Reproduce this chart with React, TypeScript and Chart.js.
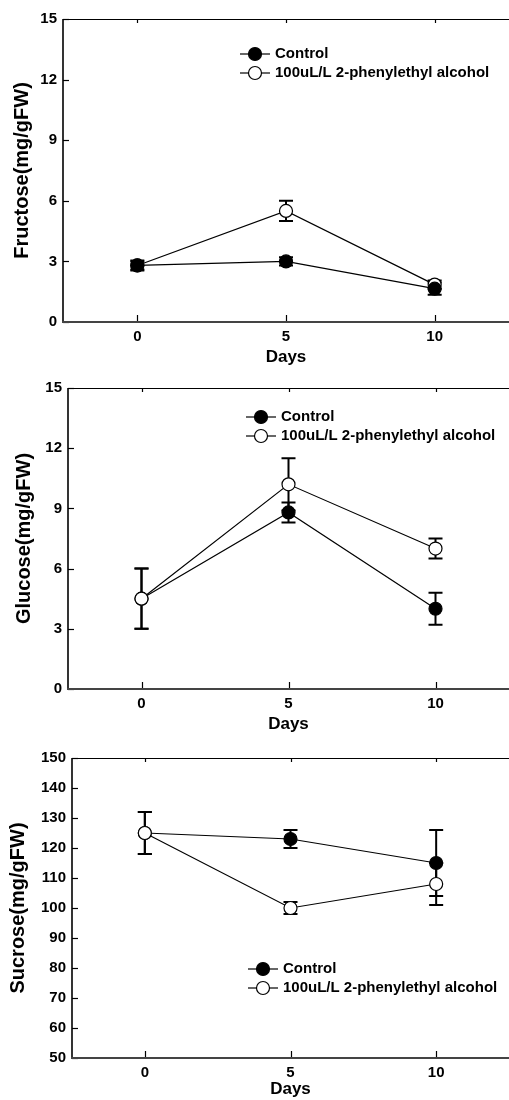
import React, { useEffect, useRef } from "react";
import { Chart, registerables } from "chart.js";

Chart.register(...registerables);

// ---------------- DATA ----------------
const days = [0, 5, 10];
const seriesNames = ["Control", "100uL/L 2-phenylethyl alcohol"];
const xTitle = "Days";
const xTicks = [0, 5, 10];

const fructoseControl = [2.8, 3.0, 1.65];
const fructoseControlErr = [0.25, 0.2, 0.3];
const fructoseTreated = [2.8, 5.5, 1.85];
const fructoseTreatedErr = [0.2, 0.5, 0.2];
const fructoseTicks = [0, 3, 6, 9, 12, 15];

const glucoseControl = [4.5, 8.8, 4.0];
const glucoseControlErr = [1.5, 0.5, 0.8];
const glucoseTreated = [4.5, 10.2, 7.0];
const glucoseTreatedErr = [1.5, 1.3, 0.5];
const glucoseTicks = [0, 3, 6, 9, 12, 15];

const sucroseControl = [125, 123, 115];
const sucroseControlErr = [7, 3, 11];
const sucroseTreated = [125, 100, 108];
const sucroseTreatedErr = [7, 2, 7];
const sucroseTicks = [50, 60, 70, 80, 90, 100, 110, 120, 130, 140, 150];

// ---------------- LAYOUT / STYLE ----------------
const FONT = "'Liberation Sans', Arial, Helvetica, sans-serif";

type Panel = {
  title: string;
  control: number[];
  controlErr: number[];
  treated: number[];
  treatedErr: number[];
  yTicks: number[];
  top: number;
  height: number;
  areaTop: number;
  areaLeft: number;
  areaBottom: number;
  yTitlePad: number;
  xTitlePad: number;
  legendDx: number;
  legendDy: number;
  treatedOnTop: boolean;
};

const panels: Panel[] = [
  {
    title: "Fructose(mg/gFW)",
    control: fructoseControl,
    controlErr: fructoseControlErr,
    treated: fructoseTreated,
    treatedErr: fructoseTreatedErr,
    yTicks: fructoseTicks,
    top: 0,
    height: 370,
    areaTop: 19,
    areaLeft: 63,
    areaBottom: 322,
    yTitlePad: 10,
    xTitlePad: 2,
    legendDx: 192,
    legendDy: 35,
    treatedOnTop: false,
  },
  {
    title: "Glucose(mg/gFW)",
    control: glucoseControl,
    controlErr: glucoseControlErr,
    treated: glucoseTreated,
    treatedErr: glucoseTreatedErr,
    yTicks: glucoseTicks,
    top: 370,
    height: 370,
    areaTop: 18,
    areaLeft: 68,
    areaBottom: 319,
    yTitlePad: 12,
    xTitlePad: 5,
    legendDx: 193,
    legendDy: 29,
    treatedOnTop: true,
  },
  {
    title: "Sucrose(mg/gFW)",
    control: sucroseControl,
    controlErr: sucroseControlErr,
    treated: sucroseTreated,
    treatedErr: sucroseTreatedErr,
    yTicks: sucroseTicks,
    top: 740,
    height: 360,
    areaTop: 18,
    areaLeft: 72,
    areaBottom: 318,
    yTitlePad: 6,
    xTitlePad: 0,
    legendDx: 191,
    legendDy: 211,
    treatedOnTop: true,
  },
];

const errorBarPlugin = {
  id: "errorBars",
  beforeDatasetsDraw(chart: any) {
    const ctx = chart.ctx;
    const ys = chart.scales.y;
    ctx.save();
    ctx.strokeStyle = "#000";
    ctx.lineWidth = 2;
    chart.data.datasets.forEach((ds: any, di: number) => {
      const meta = chart.getDatasetMeta(di);
      ds.data.forEach((pt: any, i: number) => {
        const el = meta.data[i];
        const e = ds.errors[i];
        const x = el.x;
        const y1 = ys.getPixelForValue(pt.y + e);
        const y2 = ys.getPixelForValue(pt.y - e);
        ctx.beginPath();
        ctx.moveTo(x, y1);
        ctx.lineTo(x, y2);
        ctx.moveTo(x - 7, y1);
        ctx.lineTo(x + 7, y1);
        ctx.moveTo(x - 7, y2);
        ctx.lineTo(x + 7, y2);
        ctx.stroke();
      });
    });
    ctx.restore();
  },
};

const axesPlugin = {
  id: "frameAxes",
  afterDatasetsDraw(chart: any) {
    const ctx = chart.ctx;
    const { left, right, top, bottom } = chart.chartArea;
    const xs = chart.scales.x;
    const ys = chart.scales.y;
    ctx.save();
    // top frame line
    ctx.strokeStyle = "#000";
    ctx.lineWidth = 1;
    ctx.beginPath();
    ctx.moveTo(left, top + 0.5);
    ctx.lineTo(right, top + 0.5);
    ctx.stroke();
    // left axis
    ctx.lineWidth = 1.6;
    ctx.beginPath();
    ctx.moveTo(left, top);
    ctx.lineTo(left, bottom);
    ctx.stroke();
    // y ticks inward
    ctx.lineWidth = 1.2;
    ys.ticks.forEach((t: any) => {
      const py = Math.round(ys.getPixelForValue(t.value)) + 0.5;
      ctx.beginPath();
      ctx.moveTo(left, py);
      ctx.lineTo(left + 6, py);
      ctx.stroke();
    });
    // x ticks inward (bottom and top)
    xs.ticks.forEach((t: any) => {
      const px = Math.round(xs.getPixelForValue(t.value)) + 0.5;
      ctx.beginPath();
      ctx.moveTo(px, bottom);
      ctx.lineTo(px, bottom - 7);
      ctx.moveTo(px, top);
      ctx.lineTo(px, top + 4);
      ctx.stroke();
    });
    // bottom axis
    ctx.strokeStyle = "#444";
    ctx.lineWidth = 2;
    ctx.beginPath();
    ctx.moveTo(left - 1, bottom);
    ctx.lineTo(right, bottom);
    ctx.stroke();
    ctx.restore();
  },
};

const legendPlugin = {
  id: "insideLegend",
  afterDraw(chart: any) {
    const opts = chart.options.plugins.insideLegend;
    const ctx = chart.ctx;
    const { left, top } = chart.chartArea;
    const mx = left + opts.dx;
    ctx.save();
    chart.data.datasets.forEach((ds: any, i: number) => {
      const my = top + opts.dy + i * 19;
      ctx.strokeStyle = "#000";
      ctx.lineWidth = 1.2;
      ctx.beginPath();
      ctx.moveTo(mx - 15, my);
      ctx.lineTo(mx + 15, my);
      ctx.stroke();
      ctx.beginPath();
      ctx.arc(mx, my, 6.5, 0, Math.PI * 2);
      ctx.fillStyle = ds.pointBackgroundColor;
      ctx.fill();
      ctx.stroke();
      ctx.fillStyle = "#000";
      ctx.font = `bold 15px ${FONT}`;
      ctx.textBaseline = "middle";
      ctx.textAlign = "left";
      ctx.fillText(ds.label, mx + 20, my);
    });
    ctx.restore();
  },
};

function PanelChart({ p }: { p: Panel }) {
  const ref = useRef<HTMLCanvasElement | null>(null);
  useEffect(() => {
    if (!ref.current) return;
    Chart.defaults.color = "#000";
    Chart.defaults.font.family = FONT;
    const mk = (vals: number[]) => days.map((d, i) => ({ x: d, y: vals[i] }));
    const chart = new Chart(ref.current, {
      type: "line",
      data: {
        datasets: [
          {
            label: seriesNames[0],
            data: mk(p.control),
            errors: p.controlErr,
            borderColor: "#000",
            borderWidth: 1.2,
            pointRadius: 6.5,
            pointBorderWidth: 1.2,
            pointBackgroundColor: "#000",
            pointBorderColor: "#000",
            order: p.treatedOnTop ? 1 : 0,
          } as any,
          {
            label: seriesNames[1],
            data: mk(p.treated),
            errors: p.treatedErr,
            borderColor: "#000",
            borderWidth: 1.2,
            pointRadius: 6.5,
            pointBorderWidth: 1.2,
            pointBackgroundColor: "#fff",
            pointBorderColor: "#000",
            order: p.treatedOnTop ? 0 : 1,
          } as any,
        ],
      },
      options: {
        animation: false,
        responsive: false,
        layout: {
          autoPadding: false,
          padding: { top: p.areaTop, left: 0, right: 0, bottom: 0 },
        },
        plugins: {
          legend: { display: false },
          tooltip: { enabled: false },
          insideLegend: { dx: p.legendDx, dy: p.legendDy },
        } as any,
        scales: {
          x: {
            type: "linear",
            min: -2.5,
            max: 12.5,
            grid: { display: false, drawTicks: false },
            border: { display: false },
            afterBuildTicks: (s: any) => {
              s.ticks = xTicks.map((v) => ({ value: v }));
            },
            afterFit: (s: any) => {
              s.height = p.height - p.areaBottom;
              s.paddingLeft = 0;
              s.paddingRight = 0;
            },
            ticks: {
              padding: 6,
              font: { size: 15, weight: "bold" },
              color: "#000",
            },
            title: {
              display: true,
              text: xTitle,
              font: { size: 17, weight: "bold" },
              color: "#000",
              padding: { top: 0, bottom: p.xTitlePad },
            },
          },
          y: {
            type: "linear",
            min: p.yTicks[0],
            max: p.yTicks[p.yTicks.length - 1],
            grid: { display: false, drawTicks: false },
            border: { display: false },
            afterBuildTicks: (s: any) => {
              s.ticks = p.yTicks.map((v) => ({ value: v }));
            },
            afterFit: (s: any) => {
              s.width = p.areaLeft;
              s.paddingTop = 0;
              s.paddingBottom = 0;
            },
            ticks: {
              padding: 6,
              font: { size: 15, weight: "bold" },
              color: "#000",
            },
            title: {
              display: true,
              text: p.title,
              font: { size: 20, weight: "bold" },
              color: "#000",
              padding: { top: p.yTitlePad, bottom: 0 },
            },
          },
        },
      } as any,
      plugins: [errorBarPlugin, axesPlugin, legendPlugin],
    });
    return () => chart.destroy();
  }, [p]);
  return (
    <canvas
      ref={ref}
      width={509}
      height={p.height}
      style={{
        position: "absolute",
        left: 0,
        top: p.top,
        width: 509,
        height: p.height,
        display: "block",
      }}
    />
  );
}

export default function App() {
  return (
    <div>
      {panels.map((p, i) => (
        <PanelChart key={i} p={p} />
      ))}
    </div>
  );
}
